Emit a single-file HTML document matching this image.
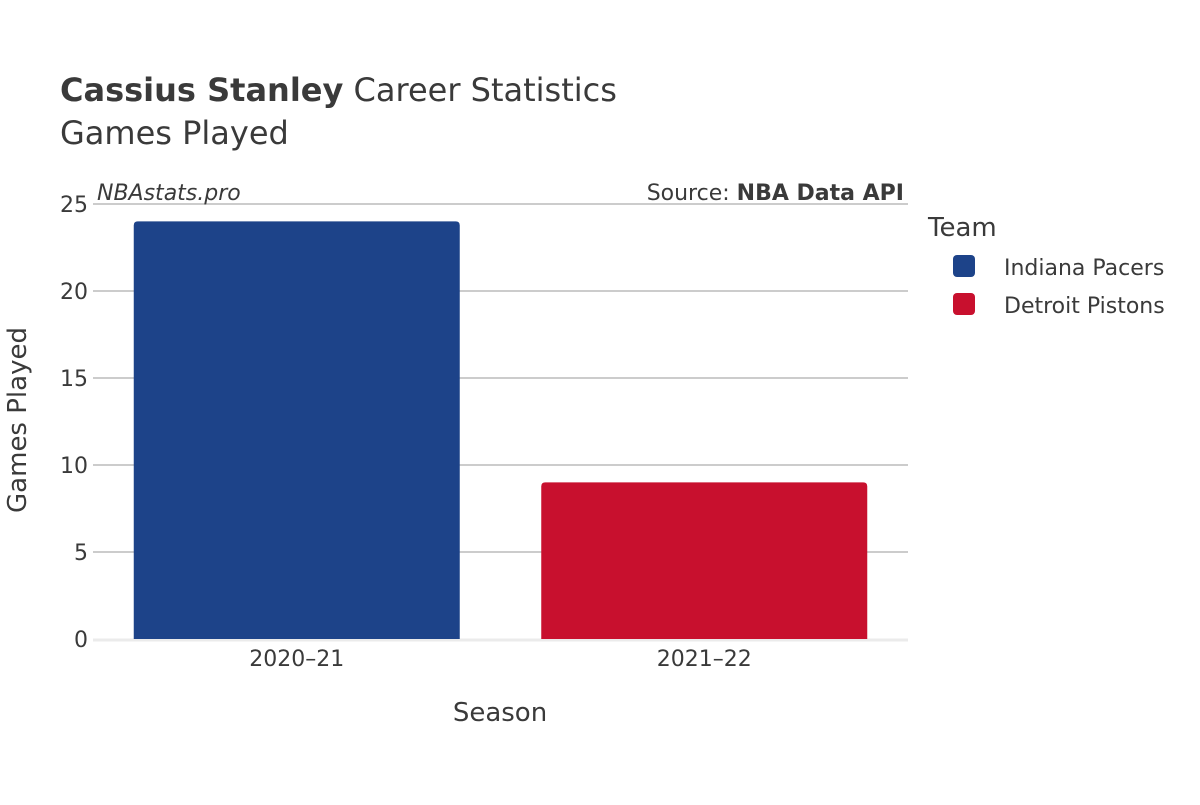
<!DOCTYPE html>
<html><head><meta charset="utf-8"><style>
body{margin:0;background:#fff;}
svg text{font-family:"DejaVu Sans","Liberation Sans",sans-serif;fill:#3a3a3a;}
</style></head><body>
<svg width="1200" height="800" viewBox="0 0 1200 800">
<rect width="1200" height="800" fill="#fff"/>
<text x="60" y="101" font-size="32"><tspan font-weight="bold">Cassius Stanley</tspan> Career Statistics</text>
<text x="60" y="144" font-size="32">Games Played</text>
<g id="grid"></g>
<g id="bars"></g>
<g id="ticks"></g>
<text x="97" y="200" font-size="22" font-style="italic">NBAstats.pro</text>
<text x="904" y="200" font-size="22" text-anchor="end">Source: <tspan font-weight="bold">NBA Data API</tspan></text>
<text x="500" y="721" font-size="26" text-anchor="middle">Season</text>
<text x="0" y="0" font-size="26" text-anchor="middle" transform="translate(26,420) rotate(-90)">Games Played</text>
<text x="928" y="236" font-size="26">Team</text>
<g>
<rect x="953" y="255" width="22" height="22" rx="4" fill="#1d4389"/>
<text x="1004" y="275" font-size="22">Indiana Pacers</text></g>
<g>
<rect x="953" y="293" width="22" height="22" rx="4" fill="#c8102e"/>
<text x="1004" y="313" font-size="22">Detroit Pistons</text></g>
</svg>
<script>
const categories=["2020–21","2021–22"];
const values=[24,9];
const teams=["Indiana Pacers","Detroit Pistons"];
const colors=["#1d4389","#c8102e"];
const yTicks=[0,5,10,15,20,25];
const NS="http://www.w3.org/2000/svg";
const x0=93,x1=908,yB=639,yT=204,yMax=25;
const y=v=>yB-(v/yMax)*(yB-yT);
const band=(x1-x0)/categories.length;
const xc=i=>x0+band*(i+0.5);
function mk(t,a,p){const e=document.createElementNS(NS,t);for(const k in a)e.setAttribute(k,a[k]);p.appendChild(e);return e;}
const grid=document.getElementById('grid'),bars=document.getElementById('bars'),ticks=document.getElementById('ticks');
yTicks.forEach(v=>{
 if(v>0){const l=mk('line',{x1:x0,x2:x1,y1:y(v),y2:y(v),stroke:'#999','stroke-width':1},grid);
 
 }
 const t=mk('text',{x:88,y:y(v)+8,'font-size':22,'text-anchor':'end'},ticks);t.textContent=v;
 
 
});
const z=mk('line',{x1:x0,x2:x1,y1:yB+1,y2:yB+1,stroke:'#ebebeb','stroke-width':3},grid);


categories.forEach((c,i)=>{
 const w=band*0.8,h=yB-y(values[i]);
 const r=mk('path',{d:`M${xc(i)-w/2},${yB}V${y(values[i])+4}q0,-4 4,-4H${xc(i)+w/2-4}q4,0 4,4V${yB}Z`,fill:colors[i]},bars);
 
 
 const t=mk('text',{x:xc(i),y:666,'font-size':22,'text-anchor':'middle'},ticks);t.textContent=c;
 
 
});
</script>
</body></html>
